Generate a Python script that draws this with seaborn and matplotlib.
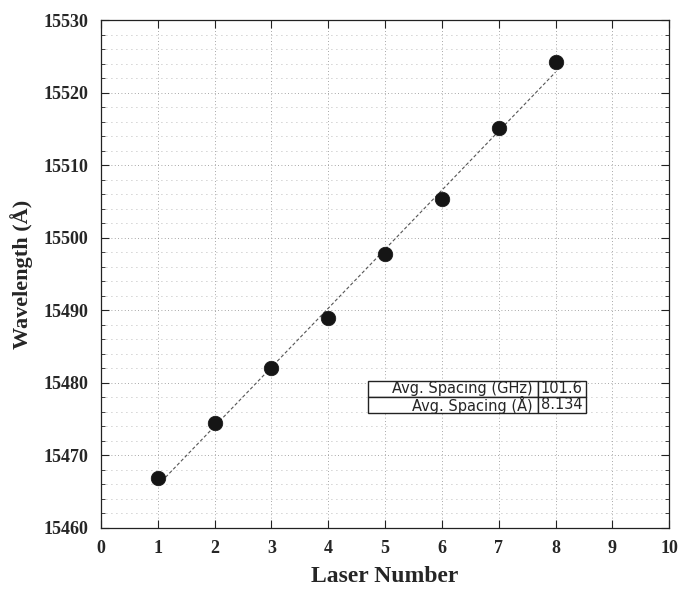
import numpy as np
import pandas as pd
import matplotlib
matplotlib.use('Agg')
import matplotlib.pyplot as plt
from matplotlib.ticker import MultipleLocator
import seaborn as sns

# data
laser = [1, 2, 3, 4, 5, 6, 7, 8]
wavelength = [15466.9, 15474.4, 15482.0, 15489.0, 15497.8, 15505.3, 15515.2, 15524.2]
table_labels = ['Avg. Spacing (GHz)', 'Avg. Spacing (Å)']
table_values = ['101.6', '8.134']

df = pd.DataFrame({'Laser Number': laser, 'Wavelength': wavelength})

sns.set_style('white')
serif = {'family': 'Liberation Serif', 'weight': 'bold'}

fig = plt.figure(figsize=(6.78, 5.95), dpi=100)
ax = fig.add_axes([0.149, 0.113, 0.838, 0.853])

# fitted line through the points
sns.regplot(data=df, x='Laser Number', y='Wavelength', scatter=False, ci=None,
            truncate=True, ax=ax,
            line_kws={'color': '#555555', 'lw': 0.8, 'linestyle': (0, (3, 2))})
sns.scatterplot(data=df, x='Laser Number', y='Wavelength', ax=ax, s=110,
                color='#151515', edgecolor='#151515', linewidth=0.5, zorder=5)

ax.set_xlim(0, 10)
ax.set_ylim(15460, 15530)
ax.xaxis.set_major_locator(MultipleLocator(1))
ax.yaxis.set_major_locator(MultipleLocator(10))
ax.yaxis.set_minor_locator(MultipleLocator(2))

ax.grid(True, which='major', color='#8a8a8a', linestyle=(0, (1, 3)), lw=0.6)
ax.grid(True, which='minor', axis='y', color='#a5a5a5', linestyle=(0, (1, 5)), lw=0.6)

ax.tick_params(which='both', direction='in', top=True, right=True,
               left=True, bottom=True, color='#222222')
ax.tick_params(which='major', length=6, width=0.8, pad=9)
ax.tick_params(which='minor', length=3, width=0.6)
for s in ax.spines.values():
    s.set_color('#222222')
    s.set_linewidth(0.9)

for lab in ax.get_xticklabels() + ax.get_yticklabels():
    lab.set_fontfamily('Liberation Serif')
    lab.set_fontweight('bold')
    lab.set_fontsize(13)

ax.set_xlabel('Laser Number', fontdict=serif, fontsize=17, labelpad=6)
ax.set_ylabel('Wavelength (Å)', fontdict=serif, fontsize=16, labelpad=8)

tbl = ax.table(cellText=[[l, v] for l, v in zip(table_labels, table_values)],
               cellLoc='right', colWidths=[0.78, 0.22],
               bbox=[0.470, 0.227, 0.383, 0.063])
tbl.auto_set_font_size(False)
for (r, c), cell in tbl.get_celld().items():
    cell.set_edgecolor('#222222')
    cell.set_linewidth(1.0)
    cell.set_facecolor('white')
    cell.get_text().set_fontsize(10.5)
    cell.get_text().set_fontfamily('DejaVu Sans')
    if c == 1:
        cell.get_text().set_horizontalalignment('left')
        cell.PAD = 0.06
    else:
        cell.PAD = 0.03
tbl.set_zorder(6)

fig.savefig('out.png', dpi=100)
